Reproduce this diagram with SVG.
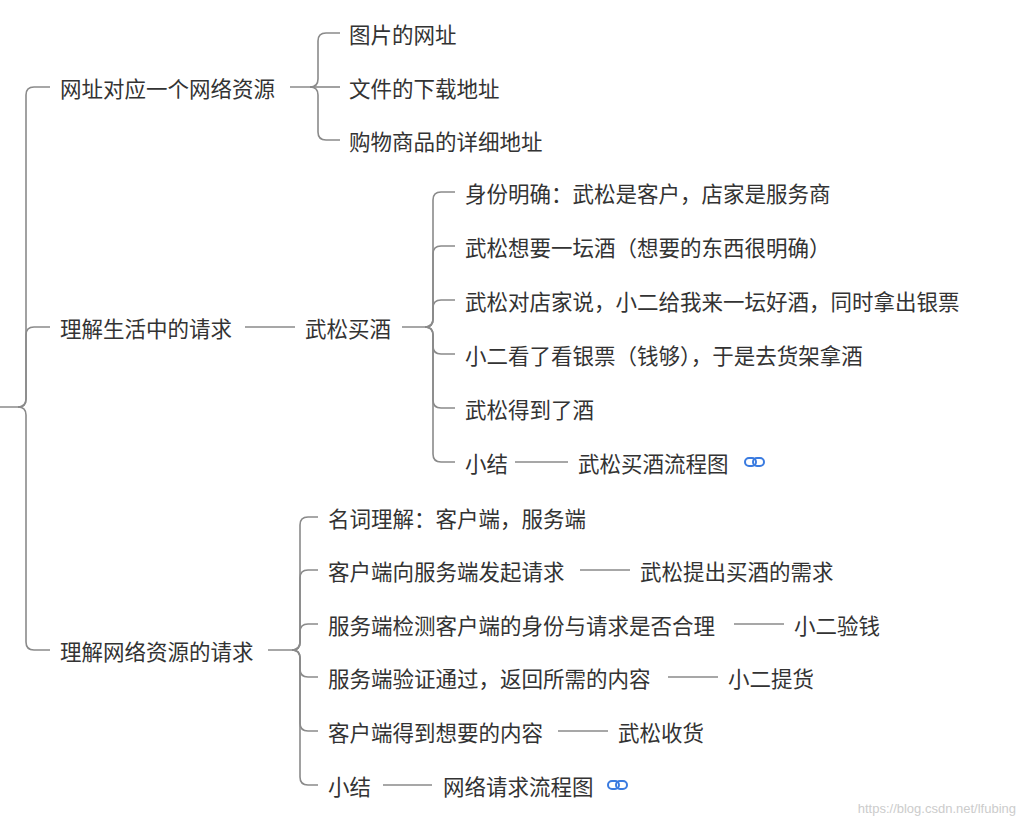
<svg xmlns="http://www.w3.org/2000/svg" width="1025" height="827" viewBox="0 0 1025 827">
<style>
text{font-family:"Noto Sans CJK SC","Noto Sans",sans-serif;font-size:21.5px;fill:#333;dominant-baseline:central}
.c{fill:none;stroke:#8a8a8a;stroke-width:1.6}
.lk{fill:none;stroke:#3a7be0;stroke-width:2}
.wm{font-family:"Liberation Sans",sans-serif;font-size:13px;fill:#ccc}
</style>
<rect width="1025" height="827" fill="#fff"/>
<g id="connectors">
<path class="c" d="M0,407 H18 Q26,407 26,399 V95 Q26,87 34,87 H50"/>
<path class="c" d="M18,407 Q26,407 26,399 V335 Q26,327 34,327 H50"/>
<path class="c" d="M18,407 Q26,407 26,415 V642 Q26,650 34,650 H50"/>
<path class="c" d="M290,87 H310 Q318,87 318,79 V41 Q318,33 326,33 H340"/>
<path class="c" d="M310,87 H340"/>
<path class="c" d="M310,87 Q318,87 318,95 V132 Q318,140 326,140 H340"/>
<path class="c" d="M245,327 H295"/>
<path class="c" d="M402,327 H425 Q433,327 433,319 V200 Q433,192 441,192 H455"/>
<path class="c" d="M425,327 Q433,327 433,319 V254 Q433,246 441,246 H455"/>
<path class="c" d="M425,327 Q433,327 433,319 V308 Q433,300 441,300 H455"/>
<path class="c" d="M425,327 Q433,327 433,335 V346 Q433,354 441,354 H455"/>
<path class="c" d="M425,327 Q433,327 433,335 V400 Q433,408 441,408 H455"/>
<path class="c" d="M425,327 Q433,327 433,335 V454 Q433,462 441,462 H455"/>
<path class="c" d="M515,462 H568"/>
<path class="c" d="M268,650 H292 Q300,650 300,642 V525 Q300,517 308,517 H318"/>
<path class="c" d="M292,650 Q300,650 300,642 V578 Q300,570 308,570 H318"/>
<path class="c" d="M292,650 Q300,650 300,642 V632 Q300,624 308,624 H318"/>
<path class="c" d="M292,650 Q300,650 300,658 V669 Q300,677 308,677 H318"/>
<path class="c" d="M292,650 Q300,650 300,658 V723 Q300,731 308,731 H318"/>
<path class="c" d="M292,650 Q300,650 300,658 V777 Q300,785 308,785 H318"/>
<path class="c" d="M580,570 H630"/>
<path class="c" d="M734,624 H784"/>
<path class="c" d="M668,677 H718"/>
<path class="c" d="M558,731 H608"/>
<path class="c" d="M383,785 H432"/>
</g>
<g id="n1"><text x="60" y="87">网址对应一个网络资源</text></g>
<g id="n1a"><text x="349" y="33">图片的网址</text></g>
<g id="n1b"><text x="349" y="87">文件的下载地址</text></g>
<g id="n1c"><text x="349" y="140">购物商品的详细地址</text></g>
<g id="n2"><text x="60" y="327">理解生活中的请求</text></g>
<g id="n2x"><text x="305" y="327">武松买酒</text></g>
<g id="n2a"><text x="465" y="192">身份明确：武松是客户，店家是服务商</text></g>
<g id="n2b"><text x="465" y="246">武松想要一坛酒（想要的东西很明确）</text></g>
<g id="n2c"><text x="465" y="300">武松对店家说，小二给我来一坛好酒，同时拿出银票</text></g>
<g id="n2d"><text x="465" y="354">小二看了看银票（钱够），于是去货架拿酒</text></g>
<g id="n2e"><text x="465" y="408">武松得到了酒</text></g>
<g id="n2f"><text x="465" y="462">小结</text></g>
<g id="n2g"><text x="578" y="462">武松买酒流程图</text>
<rect class="lk" x="745" y="458" width="11" height="8" rx="4"/><rect class="lk" x="753" y="458" width="11" height="8" rx="4"/></g>
<g id="n3"><text x="60" y="650">理解网络资源的请求</text></g>
<g id="n3a"><text x="328" y="517">名词理解：客户端，服务端</text></g>
<g id="n3b"><text x="328" y="570">客户端向服务端发起请求</text></g>
<g id="n3b2"><text x="640" y="570">武松提出买酒的需求</text></g>
<g id="n3c"><text x="328" y="624">服务端检测客户端的身份与请求是否合理</text></g>
<g id="n3c2"><text x="794" y="624">小二验钱</text></g>
<g id="n3d"><text x="328" y="677">服务端验证通过，返回所需的内容</text></g>
<g id="n3d2"><text x="728" y="677">小二提货</text></g>
<g id="n3e"><text x="328" y="731">客户端得到想要的内容</text></g>
<g id="n3e2"><text x="618" y="731">武松收货</text></g>
<g id="n3f"><text x="328" y="785">小结</text></g>
<g id="n3g"><text x="443" y="785">网络请求流程图</text>
<rect class="lk" x="608" y="781" width="11" height="8" rx="4"/><rect class="lk" x="616" y="781" width="11" height="8" rx="4"/></g>
<text class="wm" x="1016" y="808" text-anchor="end">https://blog.csdn.net/lfubing</text>
</svg>
